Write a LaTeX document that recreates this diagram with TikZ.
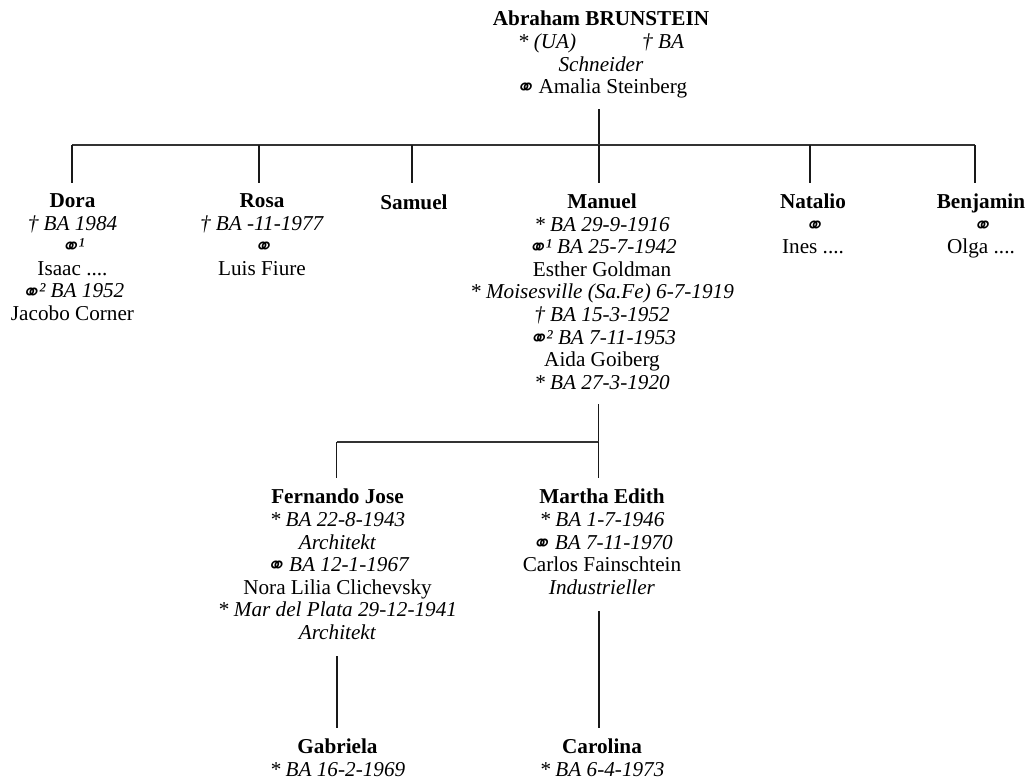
\documentclass[tikz,border=0pt]{standalone}
\usepackage{fontspec}
\setmainfont{Liberation Serif}
\newfontfamily\marrfont[Scale=1.1,FakeSlant=0.18]{DejaVu Sans}
\newcommand\marr{\raisebox{-2.2pt}{\marrfont ⚭}\kern-1.2pt}
\begin{document}
\begin{tikzpicture}[x=1pt,y=1pt,
  person/.style={anchor=north, inner sep=0pt, align=center, yshift=16pt,
    font=\fontsize{21.2}{22.6}\selectfont,
    execute at begin node=\rule{0pt}{16pt}},
  vline/.style={line width=1.7pt, black!90},
  hline/.style={line width=1.1pt, black!80}]
\useasboundingbox (0,0) rectangle (1029,-782);

% first generation
\node[person] (abraham) at (601,-27)
  {\textbf{Abraham BRUNSTEIN}\\ \textit{* (UA)\hspace{66pt}† BA}\\ \textit{Schneider}\\ \marr{} Amalia Steinberg};

% children
\node[person] (dora) at (72.5,-209.5)
  {\textbf{Dora}\\ \textit{† BA 1984}\\ \textit{\marr¹}\\ Isaac ....\\ \textit{\marr² BA 1952}\\ Jacobo Corner};
\node[person] (rosa) at (262,-209.5)
  {\textbf{Rosa}\\ \textit{† BA -11-1977}\\ \textit{\marr}\\ Luis Fiure};
\node[person] (samuel) at (414,-209.5) {\textbf{Samuel}};
\node[person] (manuel) at (602,-209.5)
  {\textbf{Manuel}\\ \textit{* BA 29-9-1916}\\ \textit{\marr¹ BA 25-7-1942}\\ Esther Goldman\\
   \textit{* Moisesville (Sa.Fe) 6-7-1919}\\ \textit{† BA 15-3-1952}\\ \textit{\marr² BA 7-11-1953}\\
   Aida Goiberg\\ \textit{* BA 27-3-1920}};
\node[person] (natalio) at (813,-209.5)
  {\textbf{Natalio}\\ \textit{\marr}\\ Ines ....};
\node[person] (benjamin) at (981,-209.5)
  {\textbf{Benjamin}\\ \textit{\marr}\\ Olga ....};

% grandchildren
\node[person] (fernando) at (337.5,-505)
  {\textbf{Fernando Jose}\\ \textit{* BA 22-8-1943}\\ \textit{Architekt}\\ \textit{\marr{} BA 12-1-1967}\\
   Nora Lilia Clichevsky\\ \textit{* Mar del Plata 29-12-1941}\\ \textit{Architekt}};
\node[person] (martha) at (602,-505)
  {\textbf{Martha Edith}\\ \textit{* BA 1-7-1946}\\ \textit{\marr{} BA 7-11-1970}\\ Carlos Fainschtein\\ \textit{Industrieller}};

% great-grandchildren
\node[person] (gabriela) at (337.5,-755) {\textbf{Gabriela}\\ \textit{* BA 16-2-1969}};
\node[person] (carolina) at (602,-755) {\textbf{Carolina}\\ \textit{* BA 6-4-1973}};

% connection points
\coordinate (abraham-out) at (599,-109);
\coordinate (bar1) at (599,-145);
\coordinate (bar1-w) at (72,-145);
\coordinate (bar1-e) at (975,-145);
\coordinate (dora-in) at (72,-183);
\coordinate (rosa-in) at (259,-183);
\coordinate (samuel-in) at (412,-183);
\coordinate (manuel-in) at (599,-183);
\coordinate (natalio-in) at (810,-183);
\coordinate (benjamin-in) at (975,-183);

\coordinate (manuel-out) at (598.5,-404);
\coordinate (bar2) at (598.5,-442);
\coordinate (bar2-w) at (336.5,-442);
\coordinate (fernando-in) at (336.5,-478);
\coordinate (martha-in) at (598.5,-478);

\coordinate (fernando-out) at (336.7,-656);
\coordinate (gabriela-in) at (336.7,-728);
\coordinate (martha-out) at (599,-611);
\coordinate (carolina-in) at (599,-728);

% tree lines
\draw[vline] (abraham-out) -- (bar1);
\draw[hline] (bar1-w) -- (bar1-e);
\foreach \c in {dora,rosa,samuel,manuel,natalio,benjamin}
  \draw[vline] (\c-in |- bar1) -- (\c-in);

\draw[vline] (manuel-out) -- (bar2);
\draw[hline] (bar2-w) -- (bar2);
\draw[vline] (bar2-w) -- (fernando-in);
\draw[vline] (bar2) -- (martha-in);

\draw[vline] (fernando-out) -- (gabriela-in);
\draw[vline] (martha-out) -- (carolina-in);
\end{tikzpicture}
\end{document}
